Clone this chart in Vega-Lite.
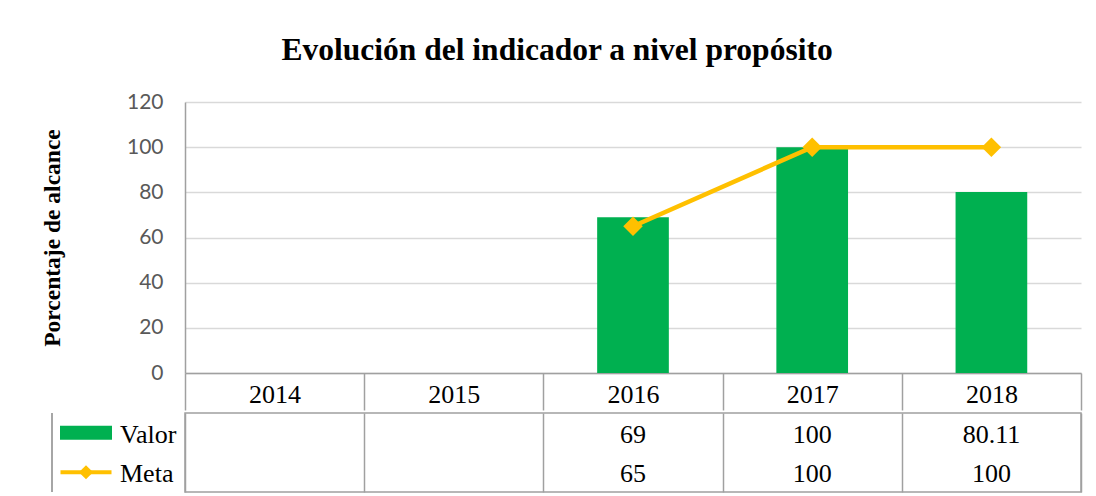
{
  "$schema": "https://vega.github.io/schema/vega-lite/v6.json",
  "background": "white",
  "padding": {"left": 40, "top": 34, "right": 10, "bottom": 5},
  "title": {
    "text": "Evolución del indicador a nivel propósito",
    "font": "Liberation Serif",
    "fontSize": 31.5,
    "fontWeight": "bold",
    "color": "#000000",
    "anchor": "middle",
    "dx": -4,
    "offset": 25
  },
  "datasets": {
    "main": [
      {"year": "2014", "Valor": null, "Meta": null},
      {"year": "2015", "Valor": null, "Meta": null},
      {"year": "2016", "Valor": 69, "Meta": 65},
      {"year": "2017", "Valor": 100, "Meta": 100},
      {"year": "2018", "Valor": 80.11, "Meta": 100}
    ],
    "series": [
      {"serie": "Valor"},
      {"serie": "Meta"}
    ]
  },
  "spacing": 0,
  "vconcat": [
    {
      "width": 896,
      "height": 271,
      "view": {"stroke": null},
      "data": {"name": "main"},
      "encoding": {
        "x": {
          "field": "year",
          "type": "nominal",
          "scale": {"domain": ["2014", "2015", "2016", "2017", "2018"], "paddingInner": 0, "paddingOuter": 0},
          "axis": {
            "title": null,
            "labelAngle": 0,
            "labelFont": "Liberation Serif",
            "labelFontSize": 26,
            "labelColor": "#000000",
            "labelBaseline": "alphabetic",
            "labelPadding": -8,
            "ticks": true,
            "tickBand": "extent",
            "tickSize": 37,
            "tickColor": "#a0a0a0",
            "tickWidth": 1.5,
            "domain": true,
            "domainColor": "#a0a0a0",
            "domainWidth": 1.5,
            "grid": false
          }
        }
      },
      "layer": [
        {
          "mark": {"type": "bar", "color": "#00B050", "width": {"band": 0.4}},
          "encoding": {
            "y": {
              "field": "Valor",
              "type": "quantitative",
              "scale": {"domain": [0, 120]},
              "axis": {
                "title": "Porcentaje de alcance",
                "titleFont": "Liberation Serif",
                "titleFontSize": 23.5,
                "titleFontWeight": "bold",
                "titleColor": "#000000",
                "titlePadding": 62,
                "values": [0, 20, 40, 60, 80, 100, 120],
                "labelFont": "Lato",
                "labelFontSize": 21,
                "labelColor": "#595959",
                "labelPadding": 22,
                "ticks": false,
                "domain": true,
                "domainColor": "#a0a0a0",
                "domainWidth": 1.5,
                "grid": true,
                "gridColor": "#d9d9d9",
                "gridWidth": 1.5
              }
            }
          }
        },
        {
          "mark": {"type": "line", "color": "#FFC000", "strokeWidth": 4.5},
          "encoding": {
            "y": {"field": "Meta", "type": "quantitative", "title": "Porcentaje de alcance"}
          }
        },
        {
          "mark": {"type": "point", "shape": "diamond", "filled": true, "color": "#FFC000", "opacity": 1, "size": 380},
          "encoding": {
            "y": {"field": "Meta", "type": "quantitative", "title": "Porcentaje de alcance"}
          }
        }
      ]
    },
    {
      "width": 896,
      "height": 79,
      "view": {"stroke": "#a0a0a0", "strokeWidth": 1.5},
      "resolve": {"scale": {"x": "independent"}, "axis": {"x": "independent"}},
      "layer": [
        {
          "data": {"name": "main"},
          "transform": [
            {"fold": ["Valor", "Meta"], "as": ["serie", "value"]},
            {"filter": "datum.value != null"}
          ],
          "mark": {"type": "text", "font": "Liberation Serif", "fontSize": 26, "color": "#000000", "align": "center", "baseline": "alphabetic", "dy": 10},
          "encoding": {
            "x": {
              "field": "year",
              "type": "nominal",
              "scale": {"domain": ["2014", "2015", "2016", "2017", "2018"], "paddingInner": 0, "paddingOuter": 0},
              "axis": {
                "title": null,
                "orient": "top",
                "labels": false,
                "ticks": false,
                "domain": false,
                "grid": true,
                "tickBand": "extent",
                "gridColor": "#a0a0a0",
                "gridWidth": 1.5
              }
            },
            "y": {
              "field": "serie",
              "type": "nominal",
              "scale": {"domain": ["Valor", "Meta"], "paddingInner": 0, "paddingOuter": 0},
              "axis": {
                "title": null,
                "labels": false,
                "domain": false,
                "ticks": true,
                "tickBand": "extent",
                "tickSize": 133,
                "tickColor": "#a0a0a0",
                "tickWidth": 1.5,
                "grid": true,
                "gridColor": "#a0a0a0",
                "gridWidth": 1.5
              }
            },
            "text": {"field": "value", "type": "nominal"}
          }
        },
        {
          "data": {"name": "series"},
          "layer": [
            {
              "mark": {"type": "rule", "color": "#a0a0a0", "strokeWidth": 1.5},
              "encoding": {
                "x": {"datum": "edge", "type": "nominal", "scale": {"type": "point", "domain": ["edge", "sym", "lab"], "range": [-133, -65], "padding": 0}, "axis": null}
              }
            },
            {
              "transform": [{"filter": "datum.serie == 'Valor'"}],
              "mark": {"type": "point", "shape": "M-1,-0.27L1,-0.27L1,0.27L-1,0.27Z", "filled": true, "color": "#00B050", "opacity": 1, "size": 2704, "strokeWidth": 0},
              "encoding": {
                "x": {"datum": "sym", "type": "nominal", "axis": null},
                "y": {"field": "serie", "type": "nominal", "axis": null}
              }
            },
            {
              "transform": [{"filter": "datum.serie == 'Meta'"}],
              "mark": {"type": "point", "shape": "M-1,-0.08L1,-0.08L1,0.08L-1,0.08Z", "filled": true, "color": "#FFC000", "opacity": 1, "size": 2601, "strokeWidth": 0},
              "encoding": {
                "x": {"datum": "sym", "type": "nominal", "axis": null},
                "y": {"field": "serie", "type": "nominal", "axis": null}
              }
            },
            {
              "transform": [{"filter": "datum.serie == 'Meta'"}],
              "mark": {"type": "point", "shape": "diamond", "filled": true, "color": "#FFC000", "opacity": 1, "size": 200, "strokeWidth": 0},
              "encoding": {
                "x": {"datum": "sym", "type": "nominal", "axis": null},
                "y": {"field": "serie", "type": "nominal", "axis": null}
              }
            },
            {
              "mark": {"type": "text", "font": "Liberation Serif", "fontSize": 26, "color": "#000000", "align": "left", "baseline": "alphabetic", "dy": 10},
              "encoding": {
                "x": {"datum": "lab", "type": "nominal", "axis": null},
                "y": {"field": "serie", "type": "nominal", "axis": null},
                "text": {"field": "serie", "type": "nominal"}
              }
            }
          ]
        }
      ]
    }
  ]
}
